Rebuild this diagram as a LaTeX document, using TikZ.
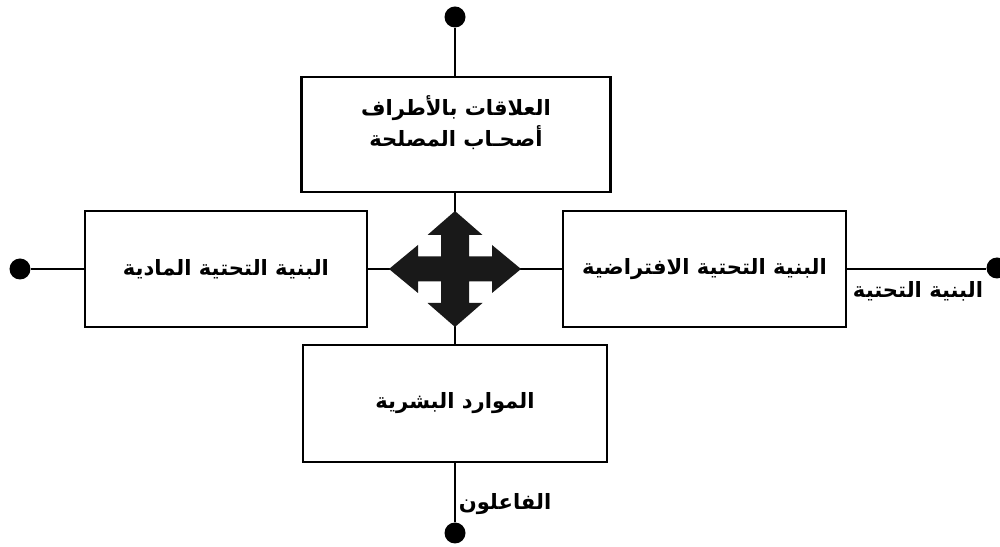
\documentclass[tikz,border=0pt]{standalone}
\usepackage{fontspec}
\newfontfamily\arabicfont[Script=Arabic]{DejaVu Sans}
\TeXXeTstate=1
\tikzset{
  blok/.style={draw, line width=1.2pt, align=center, inner sep=0pt,
    font=\arabicfont\bfseries\fontsize{12}{17.5}\selectfont},
  tekst/.style={align=center, inner sep=0pt,
    font=\arabicfont\bfseries\fontsize{12}{17.5}\selectfont},
  stip/.style={fill, circle, inner sep=0pt, minimum size=0.42cm},
  lijn/.style={line width=1.2pt},
  bijschrift/.style={font=\arabicfont\bfseries\fontsize{12}{14}\selectfont},
}

\begin{document}
\begin{tikzpicture}[scale=1]
		\useasboundingbox (0, 0) rectangle (20, 10.94);

		% de vier blokken
		\node[blok, minimum width=6.18cm, minimum height=2.3cm] (relaties) at (9.12, 8.25) {};
		\node[tekst] (relatiestekst) at ([yshift=0.24cm]relaties.center)
			{\beginR العلاقات بالأطراف\endR\\ \beginR أصحـاب المصلحة\endR};
		\node[blok, minimum width=5.64cm, minimum height=2.32cm] (fysiek) at (4.52, 5.56)
			{\beginR البنية التحتية المادية\endR};
		\node[blok, minimum width=5.66cm, minimum height=2.32cm] (virtueel) at (14.09, 5.56)
			{\beginR البنية التحتية الافتراضية\endR};
		\node[blok, minimum width=6.08cm, minimum height=2.34cm] (mensen) at (9.1, 2.87)
			{\beginR الموارد البشرية\endR};

		% uiteinden
		\node[stip] (boven) at (9.1, 10.6) {};
		\node[stip] (links) at (0.4, 5.56) {};
		\node[stip] (rechts) at (19.94, 5.58) {};
		\node[stip] (onder) at (9.1, 0.28) {};
		\coordinate (midden) at (9.1, 5.56);

		\draw[lijn] (boven) -- (boven |- relaties.north);
		\draw[lijn] (midden |- relaties.south) -- (midden |- mensen.north);
		\draw[lijn] (links) -- (fysiek.west);
		\draw[lijn] (fysiek.east) -- (virtueel.west);
		\draw[lijn] (virtueel.east) -- (rechts.west |- virtueel.east);
		\draw[lijn] (mensen.south) -- (onder);

		% kruispijl
		\fill[black!90, shift={(midden)}] (0, 1.16) -- (0.55, 0.68) -- (0.28, 0.68) -- (0.28, 0.25)
			-- (0.74, 0.25) -- (0.74, 0.48) -- (1.32, 0) -- (0.74, -0.48) -- (0.74, -0.25)
			-- (0.28, -0.25) -- (0.28, -0.68) -- (0.55, -0.68) -- (0, -1.16) -- (-0.55, -0.68)
			-- (-0.28, -0.68) -- (-0.28, -0.25) -- (-0.74, -0.25) -- (-0.74, -0.48) -- (-1.32, 0)
			-- (-0.74, 0.48) -- (-0.74, 0.25) -- (-0.28, 0.25) -- (-0.28, 0.68) -- (-0.55, 0.68) -- cycle;

		\node[bijschrift] (infra) at (18.36, 5.12) {\beginR البنية التحتية\endR};
		\node[bijschrift] (actoren) at (10.1, 0.86) {\beginR الفاعلون\endR};
	\end{tikzpicture}
\end{document}
